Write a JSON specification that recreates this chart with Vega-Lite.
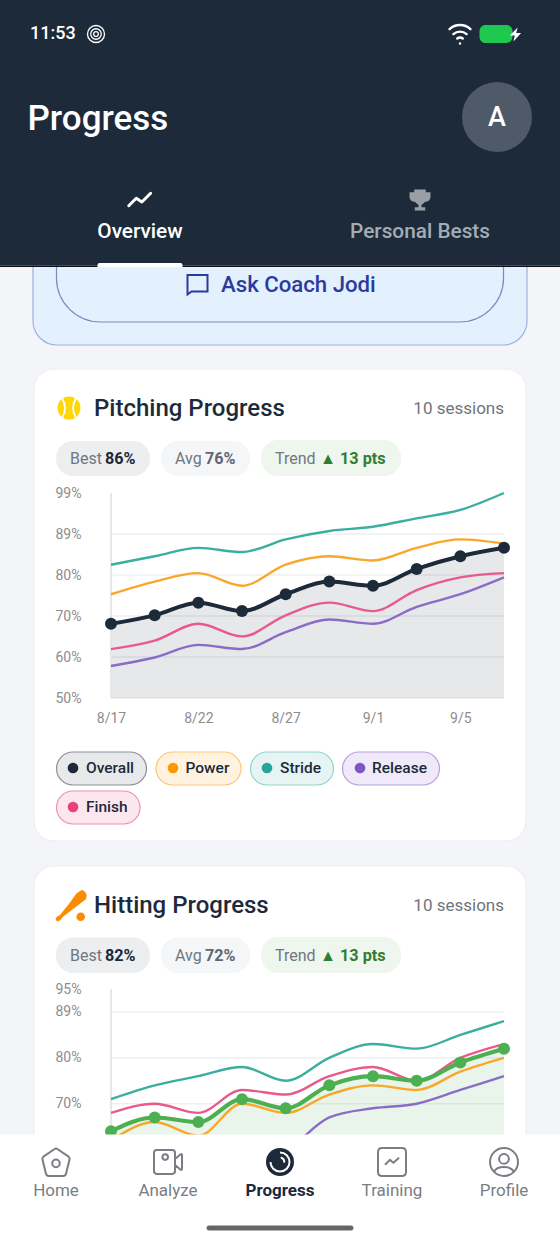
{
  "$schema": "https://vega.github.io/schema/vega-lite/v6.json",
  "width": 560,
  "height": 1244,
  "padding": 0,
  "autosize": {"type": "none"},
  "background": "#f3f5f8",
  "config": {"view": {"stroke": null}, "text": {"font": "Roboto"}, "axis": {"labelFont": "Roboto"}},
  "resolve": {
    "scale": {"x": "independent", "y": "independent", "color": "independent", "fill": "independent", "stroke": "independent", "shape": "independent"},
    "axis": {"x": "independent", "y": "independent"}
  },
  "datasets": {
    "pitching": [
      {"session": "8/17", "series": "Overall", "score": 68}, {"session": "8/19", "series": "Overall", "score": 70}, {"session": "8/22", "series": "Overall", "score": 73}, {"session": "8/24", "series": "Overall", "score": 71}, {"session": "8/27", "series": "Overall", "score": 75}, {"session": "8/29", "series": "Overall", "score": 78}, {"session": "9/1", "series": "Overall", "score": 77}, {"session": "9/3", "series": "Overall", "score": 81}, {"session": "9/5", "series": "Overall", "score": 84}, {"session": "9/6", "series": "Overall", "score": 86},
      {"session": "8/17", "series": "Power", "score": 75}, {"session": "8/19", "series": "Power", "score": 78}, {"session": "8/22", "series": "Power", "score": 80}, {"session": "8/24", "series": "Power", "score": 77}, {"session": "8/27", "series": "Power", "score": 82}, {"session": "8/29", "series": "Power", "score": 84}, {"session": "9/1", "series": "Power", "score": 83}, {"session": "9/3", "series": "Power", "score": 86}, {"session": "9/5", "series": "Power", "score": 88}, {"session": "9/6", "series": "Power", "score": 87},
      {"session": "8/17", "series": "Stride", "score": 82}, {"session": "8/19", "series": "Stride", "score": 84}, {"session": "8/22", "series": "Stride", "score": 86}, {"session": "8/24", "series": "Stride", "score": 85}, {"session": "8/27", "series": "Stride", "score": 88}, {"session": "8/29", "series": "Stride", "score": 90}, {"session": "9/1", "series": "Stride", "score": 91}, {"session": "9/3", "series": "Stride", "score": 93}, {"session": "9/5", "series": "Stride", "score": 95}, {"session": "9/6", "series": "Stride", "score": 99},
      {"session": "8/17", "series": "Release", "score": 58}, {"session": "8/19", "series": "Release", "score": 60}, {"session": "8/22", "series": "Release", "score": 63}, {"session": "8/24", "series": "Release", "score": 62}, {"session": "8/27", "series": "Release", "score": 66}, {"session": "8/29", "series": "Release", "score": 69}, {"session": "9/1", "series": "Release", "score": 68}, {"session": "9/3", "series": "Release", "score": 72}, {"session": "9/5", "series": "Release", "score": 75}, {"session": "9/6", "series": "Release", "score": 79},
      {"session": "8/17", "series": "Finish", "score": 62}, {"session": "8/19", "series": "Finish", "score": 64}, {"session": "8/22", "series": "Finish", "score": 68}, {"session": "8/24", "series": "Finish", "score": 65}, {"session": "8/27", "series": "Finish", "score": 70}, {"session": "8/29", "series": "Finish", "score": 73}, {"session": "9/1", "series": "Finish", "score": 71}, {"session": "9/3", "series": "Finish", "score": 76}, {"session": "9/5", "series": "Finish", "score": 79}, {"session": "9/6", "series": "Finish", "score": 80}
    ],
    "hitting": [
      {"session": "8/17", "series": "Overall", "score": 64}, {"session": "8/19", "series": "Overall", "score": 67}, {"session": "8/22", "series": "Overall", "score": 66}, {"session": "8/24", "series": "Overall", "score": 71}, {"session": "8/27", "series": "Overall", "score": 69}, {"session": "8/29", "series": "Overall", "score": 74}, {"session": "9/1", "series": "Overall", "score": 76}, {"session": "9/3", "series": "Overall", "score": 75}, {"session": "9/5", "series": "Overall", "score": 79}, {"session": "9/6", "series": "Overall", "score": 82},
      {"session": "8/17", "series": "Power", "score": 62}, {"session": "8/19", "series": "Power", "score": 66}, {"session": "8/22", "series": "Power", "score": 63}, {"session": "8/24", "series": "Power", "score": 70}, {"session": "8/27", "series": "Power", "score": 68}, {"session": "8/29", "series": "Power", "score": 72}, {"session": "9/1", "series": "Power", "score": 74}, {"session": "9/3", "series": "Power", "score": 73}, {"session": "9/5", "series": "Power", "score": 77}, {"session": "9/6", "series": "Power", "score": 80},
      {"session": "8/17", "series": "Stride", "score": 71}, {"session": "8/19", "series": "Stride", "score": 74}, {"session": "8/22", "series": "Stride", "score": 76}, {"session": "8/24", "series": "Stride", "score": 78}, {"session": "8/27", "series": "Stride", "score": 75}, {"session": "8/29", "series": "Stride", "score": 80}, {"session": "9/1", "series": "Stride", "score": 83}, {"session": "9/3", "series": "Stride", "score": 82}, {"session": "9/5", "series": "Stride", "score": 85}, {"session": "9/6", "series": "Stride", "score": 88},
      {"session": "8/17", "series": "Release", "score": 55}, {"session": "8/19", "series": "Release", "score": 57}, {"session": "8/22", "series": "Release", "score": 56}, {"session": "8/24", "series": "Release", "score": 58}, {"session": "8/27", "series": "Release", "score": 60}, {"session": "8/29", "series": "Release", "score": 67}, {"session": "9/1", "series": "Release", "score": 69}, {"session": "9/3", "series": "Release", "score": 70}, {"session": "9/5", "series": "Release", "score": 73}, {"session": "9/6", "series": "Release", "score": 76},
      {"session": "8/17", "series": "Finish", "score": 68}, {"session": "8/19", "series": "Finish", "score": 70}, {"session": "8/22", "series": "Finish", "score": 68}, {"session": "8/24", "series": "Finish", "score": 73}, {"session": "8/27", "series": "Finish", "score": 72}, {"session": "8/29", "series": "Finish", "score": 76}, {"session": "9/1", "series": "Finish", "score": 78}, {"session": "9/3", "series": "Finish", "score": 75}, {"session": "9/5", "series": "Finish", "score": 80}, {"session": "9/6", "series": "Finish", "score": 83}
    ]
  },
  "layer": [
    {
      "data": {"values": [{"part": "Coach card", "i": 0, "j": 1}]},
      "mark": {"type": "rect", "cornerRadius": 24, "fill": "#e3f0fd", "stroke": "#a3afe0", "strokeWidth": 1.2},
      "encoding": {
        "x": {"field": "i", "type": "quantitative", "axis": null, "scale": {"domain": [0, 1], "range": [33, 527]}},
        "x2": {"field": "j"},
        "y": {"field": "i", "type": "quantitative", "axis": null, "scale": {"domain": [0, 1], "range": [200, 345]}},
        "y2": {"field": "j"}
      }
    },
    {
      "data": {"values": [{"part": "Ask button", "i": 0, "j": 1}]},
      "mark": {"type": "rect", "cornerRadius": 44, "fill": "#e3f0fd", "stroke": "#7b88c4", "strokeWidth": 1.2},
      "encoding": {
        "x": {"field": "i", "type": "quantitative", "axis": null, "scale": {"domain": [0, 1], "range": [56.5, 503.5]}},
        "x2": {"field": "j"},
        "y": {"field": "i", "type": "quantitative", "axis": null, "scale": {"domain": [0, 1], "range": [220, 322]}},
        "y2": {"field": "j"}
      }
    },
    {
      "data": {"values": [{"part": "Pitching card", "i": 0, "j": 1}, {"part": "Hitting card", "i": 2, "j": 3}]},
      "mark": {"type": "rect", "cornerRadius": 20, "fill": "#ffffff", "stroke": "#ebedf0", "strokeWidth": 1},
      "encoding": {
        "x": {"field": "i", "type": "quantitative", "axis": null, "scale": {"domain": [0, 1, 2, 3], "range": [34, 526, 34, 526]}},
        "x2": {"field": "j"},
        "y": {"field": "i", "type": "quantitative", "axis": null, "scale": {"domain": [0, 1, 2, 3], "range": [369, 841, 866, 1220]}},
        "y2": {"field": "j"}
      }
    },
    {
      "data": {"values": [
        {"stat": "Best", "i": 0, "j": 1}, {"stat": "Avg", "i": 2, "j": 3}, {"stat": "Trend", "i": 4, "j": 5},
        {"stat": "Best", "i": 6, "j": 7}, {"stat": "Avg", "i": 8, "j": 9}, {"stat": "Trend", "i": 10, "j": 11}
      ]},
      "mark": {"type": "rect", "cornerRadius": 17},
      "encoding": {
        "x": {"field": "i", "type": "quantitative", "axis": null, "scale": {"domain": [0, 1, 2, 3, 4, 5, 6, 7, 8, 9, 10, 11], "range": [56, 150, 161, 250, 261, 401, 56, 150, 161, 250, 261, 401]}},
        "x2": {"field": "j"},
        "y": {"field": "i", "type": "quantitative", "axis": null, "scale": {"domain": [0, 1, 2, 3, 4, 5, 6, 7, 8, 9, 10, 11], "range": [441, 476, 441, 476, 440, 476, 937.5, 973, 937.5, 973, 937, 973]}},
        "y2": {"field": "j"},
        "fill": {"field": "stat", "type": "nominal", "legend": null, "scale": {"domain": ["Best", "Avg", "Trend"], "range": ["#eceef0", "#f5f6f7", "#eef6ee"]}}
      }
    },
    {
      "data": {"values": [
        {"series": "Overall", "i": 0, "j": 1}, {"series": "Power", "i": 2, "j": 3}, {"series": "Stride", "i": 4, "j": 5}, {"series": "Release", "i": 6, "j": 7}, {"series": "Finish", "i": 8, "j": 9}
      ]},
      "mark": {"type": "rect", "cornerRadius": 16.5, "strokeWidth": 1.2},
      "encoding": {
        "x": {"field": "i", "type": "quantitative", "axis": null, "scale": {"domain": [0, 1, 2, 3, 4, 5, 6, 7, 8, 9], "range": [56.5, 146.5, 156, 241, 250.5, 333.5, 342.5, 439.5, 56.5, 140]}},
        "x2": {"field": "j"},
        "y": {"field": "i", "type": "quantitative", "axis": null, "scale": {"domain": [0, 1, 2, 3, 4, 5, 6, 7, 8, 9], "range": [752, 785, 752, 785, 752, 785, 752, 785, 791, 824]}},
        "y2": {"field": "j"},
        "fill": {"field": "series", "type": "nominal", "legend": null, "scale": {"domain": ["Overall", "Power", "Stride", "Release", "Finish"], "range": ["#e8e9eb", "#fff3e0", "#e6f5f3", "#efe9f9", "#fde7ef"]}},
        "stroke": {"field": "series", "type": "nominal", "legend": null, "scale": {"domain": ["Overall", "Power", "Stride", "Release", "Finish"], "range": ["#8a8f96", "#fbc777", "#93d3ca", "#b5a2dc", "#ef90b1"]}}
      }
    },
    {
      "data": {"values": [{"series": "Overall", "i": 0}, {"series": "Power", "i": 1}, {"series": "Stride", "i": 2}, {"series": "Release", "i": 3}, {"series": "Finish", "i": 4}]},
      "mark": {"type": "point", "shape": "circle", "filled": true, "size": 115, "opacity": 1},
      "encoding": {
        "x": {"field": "i", "type": "quantitative", "axis": null, "scale": {"domain": [0, 1, 2, 3, 4], "range": [73, 173, 267, 360, 73]}},
        "y": {"field": "i", "type": "quantitative", "axis": null, "scale": {"domain": [0, 1, 2, 3, 4], "range": [768, 768, 768, 768, 807]}},
        "color": {"field": "series", "type": "nominal", "legend": null, "scale": {"domain": ["Overall", "Power", "Stride", "Release", "Finish"], "range": ["#1c2a3a", "#ff9800", "#26a69a", "#7e57c2", "#ec407a"]}}
      }
    },
    {
      "data": {"values": [{"label": "Overall", "i": 0}, {"label": "Power", "i": 1}, {"label": "Stride", "i": 2}, {"label": "Release", "i": 3}, {"label": "Finish", "i": 4}]},
      "mark": {"type": "text", "align": "left", "baseline": "middle", "fontSize": 15.5, "fontWeight": 500, "color": "#1c2a3a"},
      "encoding": {
        "x": {"field": "i", "type": "quantitative", "axis": null, "scale": {"domain": [0, 1, 2, 3, 4], "range": [86, 185.5, 280, 372, 86]}},
        "y": {"field": "i", "type": "quantitative", "axis": null, "scale": {"domain": [0, 1, 2, 3, 4], "range": [768, 768, 768, 768, 807]}},
        "text": {"field": "label"}
      }
    },
    {
      "data": {"values": [{"label": "Pitching Progress", "i": 0}, {"label": "Hitting Progress", "i": 1}]},
      "mark": {"type": "text", "align": "left", "baseline": "middle", "fontSize": 24, "fontWeight": 500, "color": "#1c2a3a"},
      "encoding": {
        "x": {"field": "i", "type": "quantitative", "axis": null, "scale": {"domain": [0, 1], "range": [94, 94]}},
        "y": {"field": "i", "type": "quantitative", "axis": null, "scale": {"domain": [0, 1], "range": [409, 906]}},
        "text": {"field": "label"}
      }
    },
    {
      "data": {"values": [{"label": "10 sessions", "i": 0}, {"label": "10 sessions", "i": 1}]},
      "mark": {"type": "text", "align": "right", "baseline": "middle", "fontSize": 17, "color": "#70757a"},
      "encoding": {
        "x": {"field": "i", "type": "quantitative", "axis": null, "scale": {"domain": [0, 1], "range": [504, 504]}},
        "y": {"field": "i", "type": "quantitative", "axis": null, "scale": {"domain": [0, 1], "range": [408.5, 905.5]}},
        "text": {"field": "label"}
      }
    },
    {
      "data": {"values": [
        {"label": "Best", "i": 0}, {"label": "Avg", "i": 1}, {"label": "Trend", "i": 2},
        {"label": "Best", "i": 3}, {"label": "Avg", "i": 4}, {"label": "Trend", "i": 5}
      ]},
      "mark": {"type": "text", "align": "left", "baseline": "middle", "fontSize": 16, "color": "#6f7680"},
      "encoding": {
        "x": {"field": "i", "type": "quantitative", "axis": null, "scale": {"domain": [0, 1, 2, 3, 4, 5], "range": [70, 175, 275, 70, 175, 275]}},
        "y": {"field": "i", "type": "quantitative", "axis": null, "scale": {"domain": [0, 1, 2, 3, 4, 5], "range": [459, 459, 459, 955.5, 955.5, 955.5]}},
        "text": {"field": "label"}
      }
    },
    {
      "data": {"values": [
        {"stat": "Best", "label": "86%", "i": 0}, {"stat": "Avg", "label": "76%", "i": 1}, {"stat": "Trend", "label": "▲ 13 pts", "i": 2},
        {"stat": "Best", "label": "82%", "i": 3}, {"stat": "Avg", "label": "72%", "i": 4}, {"stat": "Trend", "label": "▲ 13 pts", "i": 5}
      ]},
      "mark": {"type": "text", "align": "left", "baseline": "middle", "fontSize": 16.2, "fontWeight": 700},
      "encoding": {
        "x": {"field": "i", "type": "quantitative", "axis": null, "scale": {"domain": [0, 1, 2, 3, 4, 5], "range": [105, 205, 320, 105, 205, 320]}},
        "y": {"field": "i", "type": "quantitative", "axis": null, "scale": {"domain": [0, 1, 2, 3, 4, 5], "range": [459, 459, 459, 955.5, 955.5, 955.5]}},
        "text": {"field": "label"},
        "color": {"field": "stat", "type": "nominal", "legend": null, "scale": {"domain": ["Best", "Avg", "Trend"], "range": ["#1c2a3a", "#5f6773", "#2e7d32"]}}
      }
    },
    {
      "data": {"values": [{"label": "Ask Coach Jodi", "i": 0}]},
      "mark": {"type": "text", "align": "left", "baseline": "middle", "fontSize": 22.2, "fontWeight": 500, "color": "#2c3a9c"},
      "encoding": {
        "x": {"field": "i", "type": "quantitative", "axis": null, "scale": {"domain": [0, 1], "range": [221, 222]}},
        "y": {"field": "i", "type": "quantitative", "axis": null, "scale": {"domain": [0, 1], "range": [285, 286]}},
        "text": {"field": "label"}
      }
    },
    {
      "data": {"values": [{"icon": "Ask Coach Jodi", "i": 0}]},
      "mark": {"type": "point", "filled": false, "opacity": 1, "size": 400, "stroke": "#2c3a9c", "strokeWidth": 2, "shape": "M-1 -.95H1V.7H-.6L-1 1Z"},
      "encoding": {
        "x": {"field": "i", "type": "quantitative", "axis": null, "scale": {"domain": [0, 1], "range": [197.5, 198.5]}},
        "y": {"field": "i", "type": "quantitative", "axis": null, "scale": {"domain": [0, 1], "range": [284.5, 285.5]}}
      }
    },
    {
      "data": {"values": [{"icon": "Ball", "i": 0}]},
      "mark": {"type": "point", "shape": "circle", "filled": true, "opacity": 1, "size": 529, "color": "#ffd60a"},
      "encoding": {
        "x": {"field": "i", "type": "quantitative", "axis": null, "scale": {"domain": [0, 1], "range": [69, 70]}},
        "y": {"field": "i", "type": "quantitative", "axis": null, "scale": {"domain": [0, 1], "range": [408, 409]}}
      }
    },
    {
      "data": {"values": [{"icon": "Ball seams", "i": 0}]},
      "mark": {"type": "point", "filled": false, "opacity": 1, "size": 529, "stroke": "#ffffff", "strokeWidth": 1.8, "shape": "M-.6 -.85Q-.1 0 -.6 .85M.6 -.85Q.1 0 .6 .85"},
      "encoding": {
        "x": {"field": "i", "type": "quantitative", "axis": null, "scale": {"domain": [0, 1], "range": [69, 70]}},
        "y": {"field": "i", "type": "quantitative", "axis": null, "scale": {"domain": [0, 1], "range": [408, 409]}}
      }
    },
    {
      "data": {"values": [{"icon": "Bat", "i": 0}]},
      "mark": {"type": "point", "filled": true, "opacity": 1, "size": 1024, "color": "#fb8c00", "shape": "M.32 -.76Q.5 -.9 .64 -.97Q.85 -.95 .95 -.66Q.95 -.5 .9 -.39L0 .3L-.55 .72L-.7 .92L-.9 1L-1 .85L-.9 .68L-.72 .6L-.2 -.05ZM.845 .7A.27 .27 0 1 1 .305 .7A.27 .27 0 1 1 .845 .7"},
      "encoding": {
        "x": {"field": "i", "type": "quantitative", "axis": null, "scale": {"domain": [0, 1], "range": [71.5, 72.5]}},
        "y": {"field": "i", "type": "quantitative", "axis": null, "scale": {"domain": [0, 1], "range": [905.5, 906.5]}}
      }
    },
    {
      "layer": [
        {
          "data": {"values": [
            {"tick": 50.4, "from": "8/17", "to": "9/6"}, {"tick": 60.12, "from": "8/17", "to": "9/6"}, {"tick": 69.84, "from": "8/17", "to": "9/6"}, {"tick": 79.56, "from": "8/17", "to": "9/6"}, {"tick": 89.28, "from": "8/17", "to": "9/6"}
          ]},
          "mark": {"type": "rule", "color": "#eeeff1", "strokeWidth": 1.5},
          "encoding": {
            "x": {"field": "from", "type": "ordinal", "title": null},
            "x2": {"field": "to"},
            "y": {"field": "tick", "type": "quantitative", "title": null}
          }
        },
        {
          "data": {"name": "pitching"},
          "transform": [{"filter": "datum.series == 'Overall'"}],
          "mark": {"type": "area", "interpolate": "monotone", "color": "#1c2a3a", "opacity": 0.11},
          "encoding": {"y2": {"datum": 50.4}}
        },
        {
          "data": {"values": [{"from": "8/17", "top": 99, "bottom": 50.4}]},
          "mark": {"type": "rule", "color": "#e6e7ea", "strokeWidth": 2},
          "encoding": {
            "x": {"field": "from", "type": "ordinal", "title": null},
            "y": {"field": "top", "type": "quantitative", "title": null},
            "y2": {"field": "bottom"}
          }
        },
        {
          "data": {"name": "pitching"},
          "transform": [{"filter": "datum.series != 'Overall'"}],
          "mark": {"type": "line", "interpolate": "monotone", "strokeWidth": 2.4},
          "encoding": {
            "color": {"field": "series", "type": "nominal", "legend": null, "sort": null, "scale": {"domain": ["Power", "Stride", "Release", "Finish"], "range": ["#f9a72b", "#3aaea0", "#8c6bc8", "#e85a8c"]}}
          }
        },
        {
          "data": {"name": "pitching"},
          "transform": [{"filter": "datum.series == 'Overall'"}],
          "mark": {"type": "line", "interpolate": "monotone", "strokeWidth": 4, "color": "#1c2a3a"}
        },
        {
          "data": {"name": "pitching"},
          "transform": [{"filter": "datum.series == 'Overall'"}],
          "mark": {"type": "point", "shape": "circle", "filled": true, "opacity": 1, "size": 144, "color": "#1c2a3a"}
        }
      ],
      "encoding": {
        "x": {
          "field": "session", "type": "ordinal", "title": null,
          "scale": {"type": "point", "padding": 0, "domain": ["8/17", "8/19", "8/22", "8/24", "8/27", "8/29", "9/1", "9/3", "9/5", "9/6"], "range": [111, 504]},
          "axis": {"orient": "bottom", "offset": -546, "values": ["8/17", "8/22", "8/27", "9/1", "9/5"], "domain": false, "ticks": false, "grid": false, "labelAngle": 0, "labelPadding": 20, "labelBaseline": "middle", "labelFontSize": 14, "labelColor": "#8d8d8d", "zindex": 1}
        },
        "y": {
          "field": "score", "type": "quantitative", "title": null,
          "scale": {"domain": [50.4, 99], "range": [698, 493]},
          "axis": {"orient": "left", "offset": -111, "values": [50.4, 60.12, 69.84, 79.56, 89.28, 99], "format": ".0f", "labelExpr": "datum.label + '%'", "domain": false, "ticks": false, "grid": false, "labelAlign": "left", "labelPadding": 56, "labelFontSize": 14, "labelColor": "#8d8d8d", "zindex": 1}
        }
      }
    },
    {
      "layer": [
        {
          "data": {"values": [
            {"tick": 60, "from": "8/17", "to": "9/6"}, {"tick": 70, "from": "8/17", "to": "9/6"}, {"tick": 80, "from": "8/17", "to": "9/6"}, {"tick": 90, "from": "8/17", "to": "9/6"}
          ]},
          "mark": {"type": "rule", "color": "#eeeff1", "strokeWidth": 1.5},
          "encoding": {
            "x": {"field": "from", "type": "ordinal", "title": null},
            "x2": {"field": "to"},
            "y": {"field": "tick", "type": "quantitative", "title": null}
          }
        },
        {
          "data": {"name": "hitting"},
          "transform": [{"filter": "datum.series == 'Overall'"}],
          "mark": {"type": "area", "interpolate": "monotone", "color": "#4caf50", "opacity": 0.12},
          "encoding": {"y2": {"datum": 50}}
        },
        {
          "data": {"values": [{"from": "8/17", "top": 95, "bottom": 63.4}]},
          "mark": {"type": "rule", "color": "#e6e7ea", "strokeWidth": 2},
          "encoding": {
            "x": {"field": "from", "type": "ordinal", "title": null},
            "y": {"field": "top", "type": "quantitative", "title": null},
            "y2": {"field": "bottom"}
          }
        },
        {
          "data": {"name": "hitting"},
          "transform": [{"filter": "datum.series != 'Overall'"}],
          "mark": {"type": "line", "interpolate": "monotone", "strokeWidth": 2.4},
          "encoding": {
            "color": {"field": "series", "type": "nominal", "legend": null, "sort": null, "scale": {"domain": ["Power", "Stride", "Release", "Finish"], "range": ["#f9a72b", "#3aaea0", "#8c6bc8", "#e85a8c"]}}
          }
        },
        {
          "data": {"name": "hitting"},
          "transform": [{"filter": "datum.series == 'Overall'"}],
          "mark": {"type": "line", "interpolate": "monotone", "strokeWidth": 4.2, "color": "#4caf50"}
        },
        {
          "data": {"name": "hitting"},
          "transform": [{"filter": "datum.series == 'Overall'"}],
          "mark": {"type": "point", "shape": "circle", "filled": true, "opacity": 1, "size": 144, "color": "#4caf50"}
        }
      ],
      "encoding": {
        "x": {
          "field": "session", "type": "ordinal", "title": null,
          "scale": {"type": "point", "padding": 0, "domain": ["8/17", "8/19", "8/22", "8/24", "8/27", "8/29", "9/1", "9/3", "9/5", "9/6"], "range": [111, 504]},
          "axis": null
        },
        "y": {
          "field": "score", "type": "quantitative", "title": null,
          "scale": {"domain": [63.4, 95], "range": [1134, 989]},
          "axis": {"orient": "left", "offset": -111, "values": [70, 80, 90, 95], "labelExpr": "(datum.value == 90 ? 89 : datum.value) + '%'", "domain": false, "ticks": false, "grid": false, "labelAlign": "left", "labelPadding": 56, "labelFontSize": 14, "labelColor": "#8d8d8d", "zindex": 1}
        }
      }
    },
    {
      "data": {"values": [{"part": "Header", "i": 0, "j": 1}, {"part": "Header edge", "i": 2, "j": 3}, {"part": "Nav bar", "i": 4, "j": 5}]},
      "mark": {"type": "rect"},
      "encoding": {
        "x": {"field": "i", "type": "quantitative", "axis": null, "scale": {"domain": [0, 1, 2, 3, 4, 5], "range": [0, 560, 0, 560, 0, 560]}},
        "x2": {"field": "j"},
        "y": {"field": "i", "type": "quantitative", "axis": null, "scale": {"domain": [0, 1, 2, 3, 4, 5], "range": [0, 265.5, 265.5, 267, 1134.5, 1244]}},
        "y2": {"field": "j"},
        "fill": {"field": "part", "type": "nominal", "legend": null, "scale": {"domain": ["Header", "Header edge", "Nav bar"], "range": ["#1c2a3a", "#0b0f14", "#ffffff"]}}
      }
    },
    {
      "data": {"values": [{"part": "Tab indicator", "i": 0, "j": 1}]},
      "mark": {"type": "rect", "fill": "#ffffff", "cornerRadiusTopLeft": 3, "cornerRadiusTopRight": 3},
      "encoding": {
        "x": {"field": "i", "type": "quantitative", "axis": null, "scale": {"domain": [0, 1], "range": [97.5, 182.5]}},
        "x2": {"field": "j"},
        "y": {"field": "i", "type": "quantitative", "axis": null, "scale": {"domain": [0, 1], "range": [263, 267]}},
        "y2": {"field": "j"}
      }
    },
    {
      "data": {"values": [{"part": "Home bar", "i": 0, "j": 1}]},
      "mark": {"type": "rect", "fill": "#666666", "cornerRadius": 3},
      "encoding": {
        "x": {"field": "i", "type": "quantitative", "axis": null, "scale": {"domain": [0, 1], "range": [206.5, 353.5]}},
        "x2": {"field": "j"},
        "y": {"field": "i", "type": "quantitative", "axis": null, "scale": {"domain": [0, 1], "range": [1225.5, 1230.5]}},
        "y2": {"field": "j"}
      }
    },
    {
      "data": {"values": [{"part": "Battery", "i": 0, "j": 1}]},
      "mark": {"type": "rect", "fill": "#1fc94f", "cornerRadius": 6},
      "encoding": {
        "x": {"field": "i", "type": "quantitative", "axis": null, "scale": {"domain": [0, 1], "range": [479.5, 512.5]}},
        "x2": {"field": "j"},
        "y": {"field": "i", "type": "quantitative", "axis": null, "scale": {"domain": [0, 1], "range": [25, 43]}},
        "y2": {"field": "j"}
      }
    },
    {
      "data": {"values": [{"part": "Avatar", "i": 0}]},
      "mark": {"type": "point", "shape": "circle", "filled": true, "opacity": 1, "size": 4900, "color": "#4f5a68"},
      "encoding": {
        "x": {"field": "i", "type": "quantitative", "axis": null, "scale": {"domain": [0, 1], "range": [497, 498]}},
        "y": {"field": "i", "type": "quantitative", "axis": null, "scale": {"domain": [0, 1], "range": [117, 118]}}
      }
    },
    {
      "data": {"values": [{"label": "11:53", "i": 0}]},
      "mark": {"type": "text", "align": "left", "baseline": "middle", "fontSize": 18, "fontWeight": 500, "color": "#ffffff"},
      "encoding": {
        "x": {"field": "i", "type": "quantitative", "axis": null, "scale": {"domain": [0, 1], "range": [30, 31]}},
        "y": {"field": "i", "type": "quantitative", "axis": null, "scale": {"domain": [0, 1], "range": [34, 35]}},
        "text": {"field": "label"}
      }
    },
    {
      "data": {"values": [{"label": "Progress", "i": 0}]},
      "mark": {"type": "text", "align": "left", "baseline": "middle", "fontSize": 35, "fontWeight": 500, "color": "#ffffff"},
      "encoding": {
        "x": {"field": "i", "type": "quantitative", "axis": null, "scale": {"domain": [0, 1], "range": [27.5, 28.5]}},
        "y": {"field": "i", "type": "quantitative", "axis": null, "scale": {"domain": [0, 1], "range": [119, 120]}},
        "text": {"field": "label"}
      }
    },
    {
      "data": {"values": [{"label": "A", "i": 0}]},
      "mark": {"type": "text", "align": "center", "baseline": "middle", "fontSize": 27, "fontWeight": 500, "color": "#ffffff"},
      "encoding": {
        "x": {"field": "i", "type": "quantitative", "axis": null, "scale": {"domain": [0, 1], "range": [497, 498]}},
        "y": {"field": "i", "type": "quantitative", "axis": null, "scale": {"domain": [0, 1], "range": [118, 119]}},
        "text": {"field": "label"}
      }
    },
    {
      "data": {"values": [{"label": "Overview", "active": "yes", "i": 0}, {"label": "Personal Bests", "active": "no", "i": 1}]},
      "mark": {"type": "text", "align": "center", "baseline": "middle", "fontSize": 20.8, "fontWeight": 500},
      "encoding": {
        "x": {"field": "i", "type": "quantitative", "axis": null, "scale": {"domain": [0, 1], "range": [140, 420]}},
        "y": {"field": "i", "type": "quantitative", "axis": null, "scale": {"domain": [0, 1], "range": [231.5, 231.5]}},
        "text": {"field": "label"},
        "color": {"field": "active", "type": "nominal", "legend": null, "scale": {"domain": ["yes", "no"], "range": ["#ffffff", "#a4acb6"]}}
      }
    },
    {
      "data": {"values": [{"icon": "Overview", "i": 0}]},
      "mark": {"type": "point", "filled": false, "opacity": 1, "size": 625, "stroke": "#ffffff", "strokeWidth": 3, "strokeCap": "round", "strokeJoin": "round", "shape": "M-.9 .5L-.3 -.1L.15 .2L.85 -.5"},
      "encoding": {
        "x": {"field": "i", "type": "quantitative", "axis": null, "scale": {"domain": [0, 1], "range": [140, 141]}},
        "y": {"field": "i", "type": "quantitative", "axis": null, "scale": {"domain": [0, 1], "range": [199.5, 200.5]}}
      }
    },
    {
      "data": {"values": [{"icon": "Personal Bests", "i": 0}]},
      "mark": {"type": "point", "filled": true, "opacity": 1, "size": 441, "color": "#9a9fa5", "shape": "M-.55 -1H.55V-.75H1V-.3Q1 .15 .45 .2Q.3 .4 .15 .45V.7H.5V1H-.5V.7H-.15V.45Q-.3 .4 -.45 .2Q-1 .15 -1 -.3V-.75H-.55Z"},
      "encoding": {
        "x": {"field": "i", "type": "quantitative", "axis": null, "scale": {"domain": [0, 1], "range": [420, 421]}},
        "y": {"field": "i", "type": "quantitative", "axis": null, "scale": {"domain": [0, 1], "range": [200, 201]}}
      }
    },
    {
      "data": {"values": [{"icon": "Wifi", "i": 0}]},
      "mark": {"type": "point", "filled": false, "opacity": 1, "size": 484, "stroke": "#ffffff", "strokeWidth": 2.4, "strokeCap": "round", "shape": "M-.95 -.35A1.4 1.4 0 0 1 .95 -.35M-.6 .1A.9 .9 0 0 1 .6 .1M-.25 .5A.4 .4 0 0 1 .25 .5M0 .95L0 .96"},
      "encoding": {
        "x": {"field": "i", "type": "quantitative", "axis": null, "scale": {"domain": [0, 1], "range": [460, 461]}},
        "y": {"field": "i", "type": "quantitative", "axis": null, "scale": {"domain": [0, 1], "range": [33, 34]}}
      }
    },
    {
      "data": {"values": [{"icon": "Charging bolt", "i": 0}]},
      "mark": {"type": "point", "filled": true, "opacity": 1, "size": 196, "color": "#ffffff", "shape": "M.3 -1L-.8 .15H-.1L-.3 1L.8 -.2H.1Z"},
      "encoding": {
        "x": {"field": "i", "type": "quantitative", "axis": null, "scale": {"domain": [0, 1], "range": [515.5, 516.5]}},
        "y": {"field": "i", "type": "quantitative", "axis": null, "scale": {"domain": [0, 1], "range": [34.5, 35.5]}}
      }
    },
    {
      "data": {"values": [{"icon": "Status spiral", "i": 0}]},
      "mark": {"type": "point", "filled": false, "opacity": 1, "size": 289, "stroke": "#ffffff", "strokeWidth": 1.3, "shape": "M1 0A1 1 0 1 1 -1 0A1 1 0 1 1 1 0M.62 0A.62 .62 0 1 1 -.62 0A.62 .62 0 1 1 .62 0M.28 0A.28 .28 0 1 1 -.28 0A.28 .28 0 1 1 .28 0"},
      "encoding": {
        "x": {"field": "i", "type": "quantitative", "axis": null, "scale": {"domain": [0, 1], "range": [96, 97]}},
        "y": {"field": "i", "type": "quantitative", "axis": null, "scale": {"domain": [0, 1], "range": [34, 35]}}
      }
    },
    {
      "data": {"values": [{"icon": "Home", "i": 0}, {"icon": "Analyze", "i": 1}, {"icon": "Training", "i": 2}, {"icon": "Profile", "i": 3}]},
      "mark": {"type": "point", "filled": false, "opacity": 1, "size": 784, "stroke": "#7a7d85", "strokeWidth": 2, "strokeJoin": "round"},
      "encoding": {
        "x": {"field": "i", "type": "quantitative", "axis": null, "scale": {"domain": [0, 1, 2, 3], "range": [56, 168, 392, 504]}},
        "y": {"field": "i", "type": "quantitative", "axis": null, "scale": {"domain": [0, 1, 2, 3], "range": [1162, 1162, 1162, 1162]}},
        "shape": {"field": "icon", "type": "nominal", "legend": null, "scale": {
          "domain": ["Home", "Analyze", "Training", "Profile"],
          "range": [
            "M-.1 -.93Q0 -1 .1 -.93L.9 -.38Q1 -.3 .97 -.2L.72 .82Q.68 1 .5 1H-.5Q-.68 1 -.72 .82L-.97 -.2Q-1 -.3 -.9 -.38ZM.27 .1A.27 .27 0 1 1 -.27 .1A.27 .27 0 1 1 .27 .1",
            "M-.8 -.85H.3Q.5 -.85 .5 -.65V.65Q.5 .85 .3 .85H-.8Q-1 .85 -1 .65V-.65Q-1 -.85 -.8 -.85ZM.55 -.25L.9 -.55Q1 -.6 1 -.45V.45Q1 .6 .9 .55L.55 .25M0 -.35A.2 .2 0 1 1 -.4 -.35A.2 .2 0 1 1 0 -.35",
            "M-.7 -1H.7Q1 -1 1 -.7V.7Q1 1 .7 1H-.7Q-1 1 -1 .7V-.7Q-1 -1 -.7 -1ZM-.5 .2L-.15 -.15L.1 .05L.5 -.3",
            "M1 0A1 1 0 1 1 -1 0A1 1 0 1 1 1 0M.35 -.22A.35 .35 0 1 1 -.35 -.22A.35 .35 0 1 1 .35 -.22M-.7 .7C-.5 .25 .5 .25 .7 .7"
          ]
        }}
      }
    },
    {
      "data": {"values": [{"icon": "Progress", "i": 0}]},
      "mark": {"type": "point", "shape": "circle", "filled": true, "opacity": 1, "size": 784, "color": "#1c2a3a"},
      "encoding": {
        "x": {"field": "i", "type": "quantitative", "axis": null, "scale": {"domain": [0, 1], "range": [280, 281]}},
        "y": {"field": "i", "type": "quantitative", "axis": null, "scale": {"domain": [0, 1], "range": [1162, 1163]}}
      }
    },
    {
      "data": {"values": [{"icon": "Progress swirl", "i": 0}]},
      "mark": {"type": "point", "filled": false, "opacity": 1, "size": 784, "stroke": "#ffffff", "strokeWidth": 2, "shape": "M0 -.68A.68 .68 0 1 1 -.68 0M.05 -.32A.34 .34 0 0 1 .3 .05"},
      "encoding": {
        "x": {"field": "i", "type": "quantitative", "axis": null, "scale": {"domain": [0, 1], "range": [280, 281]}},
        "y": {"field": "i", "type": "quantitative", "axis": null, "scale": {"domain": [0, 1], "range": [1162, 1163]}}
      }
    },
    {
      "data": {"values": [{"label": "Home", "i": 0}, {"label": "Analyze", "i": 1}, {"label": "Training", "i": 3}, {"label": "Profile", "i": 4}]},
      "mark": {"type": "text", "align": "center", "baseline": "middle", "fontSize": 17, "color": "#7a7d85"},
      "encoding": {
        "x": {"field": "i", "type": "quantitative", "axis": null, "scale": {"domain": [0, 4], "range": [56, 504]}},
        "y": {"field": "i", "type": "quantitative", "axis": null, "scale": {"domain": [0, 4], "range": [1190.5, 1190.5]}},
        "text": {"field": "label"}
      }
    },
    {
      "data": {"values": [{"label": "Progress", "i": 2}]},
      "mark": {"type": "text", "align": "center", "baseline": "middle", "fontSize": 17, "fontWeight": 700, "color": "#1c2a3a"},
      "encoding": {
        "x": {"field": "i", "type": "quantitative", "axis": null, "scale": {"domain": [0, 4], "range": [56, 504]}},
        "y": {"field": "i", "type": "quantitative", "axis": null, "scale": {"domain": [0, 4], "range": [1190.5, 1190.5]}},
        "text": {"field": "label"}
      }
    }
  ]
}
